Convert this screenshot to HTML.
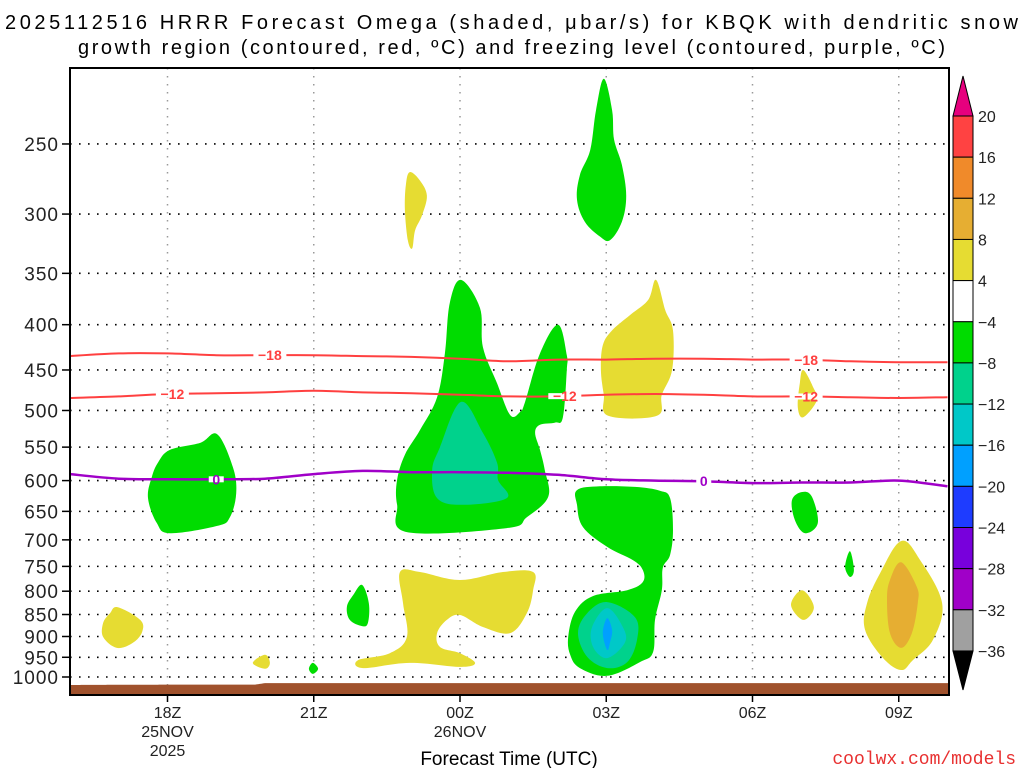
<!DOCTYPE html>
<html><head><meta charset="utf-8"><style>
html,body{margin:0;padding:0;background:#fff;}
svg{display:block;}
text{font-family:"Liberation Sans",sans-serif;}
text.mono{font-family:"Liberation Mono",monospace;}
</style></head><body>
<svg id="chart" width="1024" height="768" viewBox="0 0 1024 768" xmlns="http://www.w3.org/2000/svg">
<g>
<text x="5" y="29" textLength="1013" lengthAdjust="spacing" font-size="20" fill="#000">2025112516 HRRR Forecast Omega (shaded, μbar/s) for KBQK with dendritic snow</text>
<text x="78" y="54" textLength="867" lengthAdjust="spacing" font-size="20" fill="#000">growth region (contoured, red, ºC) and freezing level (contoured, purple, ºC)</text>
</g>
<g id="grid"></g>
<g id="shades"></g>
<g id="ground"></g>
<g id="contours"></g>
<rect x="70" y="68" width="879" height="627" fill="none" stroke="#000" stroke-width="2"/>
<g id="axes"></g>
<g id="cbar"></g>
<text x="509" y="765" text-anchor="middle" font-size="19" fill="#000">Forecast Time (UTC)</text>
<text class="mono" x="1016" y="764" text-anchor="end" font-size="18" fill="#e83030">coolwx.com/models</text>
</svg>
<script>
const pressureTicks=[250,300,350,400,450,500,550,600,650,700,750,800,850,900,950,1000];
const timeTickHours=[18,21,24,27,30,33];
const timeTickLabels=["18Z","21Z","00Z","03Z","06Z","09Z"];
const timeTickDates=["25NOV","","26NOV","","",""];
const timeTickYears=["2025","","","","",""];
const contourHours=[16,17,18,19,20,21,22,23,24,25,26,27,28,29,30,31,32,33,34];
const isoMinus18=[434,431,431,433,433,433,434,435,437,440,438,438,437,437,438,438,440,441,441];
const isoMinus12=[484,482,479,478,477,475,477,478,480,482,482,480,479,480,482,482,483,484,483];
const isoZero=[590,597,598,598,597,590,585,587,587,588,591,598,600,601,604,603,603,600,609];
const labelMinus18Hours=[20.1,31.1];
const labelMinus12Hours=[18.1,26.15,31.1];
const labelZeroHours=[19.0,29.0];
const surfaceHours=[16,18,19.8,20,34];
const surfacePressure=[1021,1020,1020,1016,1016];
const cbarLevels=["20","16","12","8","4","−4","−8","−12","−16","−20","−24","−28","−32","−36"];
const cbarColors=["#ff4242","#f08a2a","#e6ae32","#e6dc32","#ffffff","#00dc00","#00d28c","#00c8c8","#00a0ff","#1e3cff","#7800dc","#a000c8","#a0a0a0"];
const blobGreenTop=[[26.95,211],[27.12,229],[27.16,247],[27.32,264],[27.41,286],[27.32,306],[27.08,321],[26.87,318],[26.56,306],[26.40,289],[26.46,271],[26.67,254],[26.79,229]];
const blobYellowUpper=[[22.97,269],[23.18,275],[23.32,286],[23.22,301],[23.08,313],[23.02,328],[22.93,321],[22.87,297],[22.89,278]];
const blobYellow03Z=[[28.02,356],[28.21,385],[28.37,406],[28.35,450],[28.14,480],[28.04,507],[27.04,507],[26.95,480],[26.89,450],[26.93,422],[27.12,406],[27.49,390],[27.86,375]];
const blobGreenMain=[[24.02,356],[24.41,383],[24.47,424],[24.76,466],[25.03,506],[25.23,502],[25.33,490],[25.64,431],[26.01,400],[26.19,433],[26.19,450],[26.11,509],[25.95,516],[25.64,519],[25.54,530],[25.64,554],[25.74,584],[25.81,626],[25.37,660],[24.96,679],[22.91,686],[22.71,639],[22.71,599],[22.87,561],[23.18,526],[23.53,483],[23.69,431],[23.79,378]];
const blobTealMain=[[24.02,489],[24.47,530],[24.76,573],[24.78,599],[24.96,628],[24.06,639],[23.53,628],[23.43,584],[23.59,550]];
const blobGreen18Z=[[19.02,532],[19.34,579],[19.41,620],[19.28,660],[19.02,675],[18.05,688],[17.78,670],[17.60,628],[17.68,594],[17.81,572],[18.05,554],[18.67,544]];
const blobGreen03ZLow=[[26.40,615],[26.87,609],[27.59,610],[28.10,616],[28.31,628],[28.37,682],[28.31,728],[28.16,753],[28.14,798],[28.00,862],[27.96,937],[27.69,962],[27.02,997],[26.46,977],[26.26,944],[26.22,901],[26.36,844],[26.73,810],[27.43,798],[27.75,781],[27.75,757],[27.55,738],[27.02,713],[26.52,677],[26.40,639]];
const blobTeal03Z=[[27.02,823],[27.59,856],[27.63,908],[27.43,962],[27.02,977],[26.61,949],[26.42,892],[26.61,847]];
const blobCyan03Z=[[27.02,836],[27.34,878],[27.38,915],[27.02,952],[26.73,925],[26.71,878]];
const blobBlue03Z=[[27.02,858],[27.12,885],[27.08,913],[27.02,932],[26.93,892]];
const blobYellowLow=[[22.77,761],[23.18,761],[24.00,777],[24.88,761],[25.50,761],[25.50,798],[25.37,847],[25.03,892],[24.47,878],[24.00,851],[23.73,862],[23.53,892],[23.59,925],[24.00,940],[24.31,964],[24.00,974],[22.97,964],[22.01,977],[21.91,957],[22.56,940],[22.91,901],[22.83,825]];
const blobGreen22Z=[[21.99,787],[22.13,825],[22.11,869],[21.99,876],[21.74,862],[21.68,833],[21.81,808]];
const blobYellow17Z=[[16.98,834],[17.44,862],[17.48,889],[17.29,915],[16.96,927],[16.68,901],[16.68,869],[16.82,847]];
const blobYellow20Z=[[20.00,944],[20.10,964],[20.00,979],[19.75,964]];
const blobGreen21Z=[[20.98,964],[21.09,979],[20.98,992],[20.90,979]];
const blobYellow07Z=[[31.04,450],[31.24,470],[31.32,487],[31.04,509],[30.93,496],[30.97,466]];
const blobGreen07Z=[[31.02,618],[31.22,626],[31.34,670],[31.08,688],[30.87,665],[30.81,631]];
const blobGreen08Z=[[32.00,721],[32.08,757],[32.00,771],[31.90,751]];
const blobYellow07ZLow=[[31.02,798],[31.26,834],[31.04,862],[30.79,829]];
const blobYellow09Z=[[33.05,702],[33.44,738],[33.89,825],[33.70,908],[33.29,957],[33.05,982],[32.68,952],[32.31,885],[32.35,825],[32.62,763]];
const blobOrange09Z=[[33.05,742],[33.37,791],[33.39,825],[33.27,892],[33.05,927],[32.82,892],[32.76,818],[32.82,777]];

const NS="http://www.w3.org/2000/svg";
const X0=70,X1=949,Y0=68,Y1=695;
function xs(h){return X0+(h-16)*48.75;}
function ys(p){return 677-384.5*Math.log(1000/p);}
function mk(tag,attrs,parent){const e=document.createElementNS(NS,tag);for(const k in attrs)e.setAttribute(k,attrs[k]);parent.appendChild(e);return e;}
function smoothClosed(pts){
  const P=pts.map(q=>[xs(q[0]),ys(q[1])]);const n=P.length;let d="M"+P[0][0].toFixed(1)+","+P[0][1].toFixed(1);
  for(let i=0;i<n;i++){const p0=P[(i-1+n)%n],p1=P[i],p2=P[(i+1)%n],p3=P[(i+2)%n];const t=0.35;
    const c1=[p1[0]+(p2[0]-p0[0])*t/2,p1[1]+(p2[1]-p0[1])*t/2];
    const c2=[p2[0]-(p3[0]-p1[0])*t/2,p2[1]-(p3[1]-p1[1])*t/2];
    d+="C"+c1[0].toFixed(1)+","+c1[1].toFixed(1)+" "+c2[0].toFixed(1)+","+c2[1].toFixed(1)+" "+p2[0].toFixed(1)+","+p2[1].toFixed(1);}
  return d+"Z";}
function smoothLine(hs,ps){
  const P=hs.map((h,i)=>[xs(h),ys(ps[i])]);let d="M"+P[0][0].toFixed(1)+","+P[0][1].toFixed(1);
  for(let i=0;i<P.length-1;i++){const p0=P[Math.max(i-1,0)],p1=P[i],p2=P[i+1],p3=P[Math.min(i+2,P.length-1)];
    const c1=[p1[0]+(p2[0]-p0[0])/6,p1[1]+(p2[1]-p0[1])/6],c2=[p2[0]-(p3[0]-p1[0])/6,p2[1]-(p3[1]-p1[1])/6];
    d+="C"+c1[0].toFixed(1)+","+c1[1].toFixed(1)+" "+c2[0].toFixed(1)+","+c2[1].toFixed(1)+" "+p2[0].toFixed(1)+","+p2[1].toFixed(1);}
  return d;}
function interp(hs,ps,h){for(let i=0;i<hs.length-1;i++){if(h>=hs[i]&&h<=hs[i+1]){const f=(h-hs[i])/(hs[i+1]-hs[i]);return ps[i]+f*(ps[i+1]-ps[i]);}}return ps[ps.length-1];}

const grid=document.getElementById('grid');
pressureTicks.forEach(p=>{
  const l=mk('line',{x1:X0,x2:X1,y1:ys(p),y2:ys(p),stroke:'#000','stroke-width':1.6,'stroke-dasharray':'1.6,7.4'},grid);
  
  
});
timeTickHours.forEach((h,i)=>{
  const l=mk('line',{x1:xs(h),x2:xs(h),y1:Y0,y2:Y1,stroke:'#999','stroke-width':1.5,'stroke-dasharray':'1.5,6.5'},grid);
  
  
});

const shades=document.getElementById('shades');
const blobs=[
 [blobYellowUpper,'#e6dc32','yellow-upper'],[blobYellow03Z,'#e6dc32','yellow-03z'],[blobYellowLow,'#e6dc32','yellow-low'],
 [blobYellow17Z,'#e6dc32','yellow-17z'],[blobYellow20Z,'#e6dc32','yellow-20z'],[blobYellow07Z,'#e6dc32','yellow-07z'],
 [blobYellow07ZLow,'#e6dc32','yellow-07z-low'],[blobYellow09Z,'#e6dc32','yellow-09z'],[blobOrange09Z,'#e6ae32','orange-09z'],
 [blobGreenTop,'#00dc00','green-top'],[blobGreenMain,'#00dc00','green-main'],[blobGreen18Z,'#00dc00','green-18z'],
 [blobGreen03ZLow,'#00dc00','green-03z-low'],[blobGreen22Z,'#00dc00','green-22z'],[blobGreen21Z,'#00dc00','green-21z'],
 [blobGreen07Z,'#00dc00','green-07z'],[blobGreen08Z,'#00dc00','green-08z'],
 [blobTealMain,'#00d28c','teal-main'],[blobTeal03Z,'#00d28c','teal-03z'],[blobCyan03Z,'#00c8c8','cyan-03z'],[blobBlue03Z,'#00a0ff','blue-03z']];
blobs.forEach(b=>{
  const e=mk('path',{d:smoothClosed(b[0]),fill:b[1]},shades);
  
  
});

const ground=document.getElementById('ground');
let gd="M"+X0+","+Y1;
for(let x=X0;x<=X1;x+=1){const h=16+(x-X0)/48.75;gd+="L"+x+","+Math.min(ys(interp(surfaceHours,surfacePressure,h)),Y1).toFixed(1);}
gd+="L"+X1+","+Y1+"Z";
const g=mk('path',{d:gd,fill:'#a0522d'},ground);



const contours=document.getElementById('contours');
function drawContour(vals,color,w,name,labHours,lab){
  const e=mk('path',{d:smoothLine(contourHours,vals),fill:'none',stroke:color,'stroke-width':w},contours);
  
  
  labHours.forEach(h=>{
    const x=xs(h),y=ys(interp(contourHours,vals,h));
    const bw=lab.length*9+6;
    const r=mk('rect',{x:x-bw/2,y:y-3,width:bw,height:6,fill:'#fff'},contours);
    
    
    const t=mk('text',{x:x,y:y+5,'text-anchor':'middle','font-size':14,'font-weight':'bold',fill:color},contours);
    t.textContent=lab;
    
    
  });
}
drawContour(isoMinus18,'#ff4040',2,'contour-minus18',labelMinus18Hours,'−18');
drawContour(isoMinus12,'#ff4040',2,'contour-minus12',labelMinus12Hours,'−12');
drawContour(isoZero,'#a000c8',2.5,'contour-freezing-level',labelZeroHours,'0');

const axes=document.getElementById('axes');
pressureTicks.forEach(p=>{
  const tk=mk('line',{x1:62,x2:X0,y1:ys(p),y2:ys(p),stroke:'#000','stroke-width':1.5},axes);
  
  
  const t=mk('text',{x:59,y:ys(p)+7,'text-anchor':'end','font-size':19,fill:'#222','letter-spacing':'1'},axes);
  t.textContent=p;
  
  
});
timeTickHours.forEach((h,i)=>{
  const tk=mk('line',{x1:xs(h),x2:xs(h),y1:Y1,y2:Y1+7,stroke:'#000','stroke-width':1.5},axes);
  
  
  [[timeTickLabels[i],718],[timeTickDates[i],737],[timeTickYears[i],756]].forEach(s=>{
    if(!s[0])return;
    const t=mk('text',{x:xs(h),y:s[1],'text-anchor':'middle','font-size':16,fill:'#222'},axes);
    t.textContent=s[0];
    
    
  });
});

const cbar=document.getElementById('cbar');
const CB0=116,CBH=41.15,CX=953,CW=20;
cbarColors.forEach((c,i)=>{
  const r=mk('rect',{x:CX,y:CB0+i*CBH,width:CW,height:CBH,fill:c,stroke:'#000','stroke-width':1},cbar);
  
  
});
const tri1=mk('path',{d:`M${CX},${CB0}L${CX+CW/2},76L${CX+CW},${CB0}Z`,fill:'#e6007e',stroke:'#000','stroke-width':1},cbar);


const cbEnd=CB0+cbarColors.length*CBH;
const tri2=mk('path',{d:`M${CX},${cbEnd}L${CX+CW/2},690L${CX+CW},${cbEnd}Z`,fill:'#000',stroke:'#000','stroke-width':1},cbar);


cbarLevels.forEach((s,i)=>{
  const t=mk('text',{x:978,y:CB0+i*CBH+6,'font-size':16,fill:'#222'},cbar);
  t.textContent=s;
  
  
});
</script>
</body></html>
